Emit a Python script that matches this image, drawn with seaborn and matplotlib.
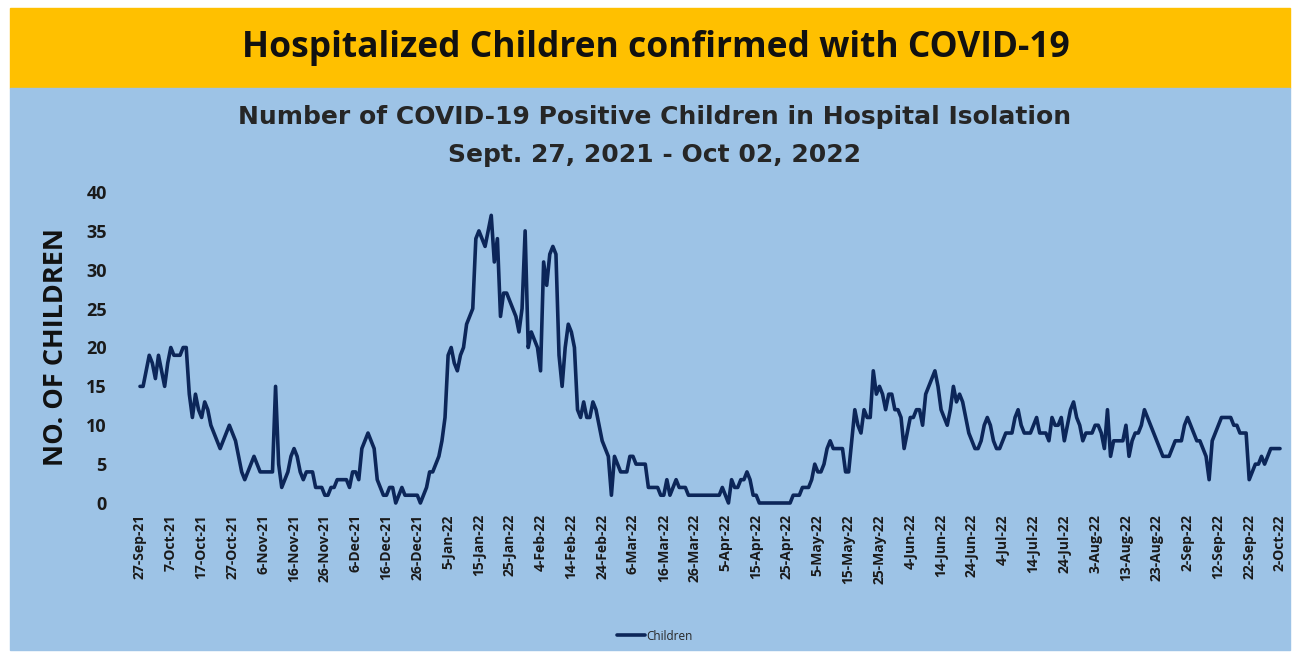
"""COVID-19 positive children in hospital isolation, Sep 2021 - Oct 2022"""

import pandas as pd
import seaborn as sns
import matplotlib.pyplot as plt
import matplotlib.dates as mdates
from matplotlib.patches import Rectangle

# daily counts, 27-Sep-21 .. 2-Oct-22
start_date = "2021-09-27"
end_date = "2022-10-02"
children = [
    15, 15, 17, 19, 18, 16, 19, 17, 15, 18,
    20, 19, 19, 19, 20, 20, 14, 11, 14, 12,
    11, 13, 12, 10, 9, 8, 7, 8, 9, 10,
    9, 8, 6, 4, 3, 4, 5, 6, 5, 4,
    4, 4, 4, 4, 15, 5, 2, 3, 4, 6,
    7, 6, 4, 3, 4, 4, 4, 2, 2, 2,
    1, 1, 2, 2, 3, 3, 3, 3, 2, 4,
    4, 3, 7, 8, 9, 8, 7, 3, 2, 1,
    1, 2, 2, 0, 1, 2, 1, 1, 1, 1,
    1, 0, 1, 2, 4, 4, 5, 6, 8, 11,
    19, 20, 18, 17, 19, 20, 23, 24, 25, 34,
    35, 34, 33, 35, 37, 31, 34, 24, 27, 27,
    26, 25, 24, 22, 25, 35, 20, 22, 21, 20,
    17, 31, 28, 32, 33, 32, 19, 15, 20, 23,
    22, 20, 12, 11, 13, 11, 11, 13, 12, 10,
    8, 7, 6, 1, 6, 5, 4, 4, 4, 6,
    6, 5, 5, 5, 5, 2, 2, 2, 2, 1,
    1, 3, 1, 2, 3, 2, 2, 2, 1, 1,
    1, 1, 1, 1, 1, 1, 1, 1, 1, 2,
    1, 0, 3, 2, 2, 3, 3, 4, 3, 1,
    1, 0, 0, 0, 0, 0, 0, 0, 0, 0,
    0, 0, 1, 1, 1, 2, 2, 2, 3, 5,
    4, 4, 5, 7, 8, 7, 7, 7, 7, 4,
    4, 8, 12, 10, 9, 12, 11, 11, 17, 14,
    15, 14, 12, 14, 14, 12, 12, 11, 7, 9,
    11, 11, 12, 12, 10, 14, 15, 16, 17, 15,
    12, 11, 10, 12, 15, 13, 14, 13, 11, 9,
    8, 7, 7, 8, 10, 11, 10, 8, 7, 7,
    8, 9, 9, 9, 11, 12, 10, 9, 9, 9,
    10, 11, 9, 9, 9, 8, 11, 10, 10, 11,
    8, 10, 12, 13, 11, 10, 8, 9, 9, 9,
    10, 10, 9, 7, 12, 6, 8, 8, 8, 8,
    10, 6, 8, 9, 9, 10, 12, 11, 10, 9,
    8, 7, 6, 6, 6, 7, 8, 8, 8, 10,
    11, 10, 9, 8, 8, 7, 6, 3, 8, 9,
    10, 11, 11, 11, 11, 10, 10, 9, 9, 9,
    3, 4, 5, 5, 6, 5, 6, 7, 7, 7, 7,
]
y_ticks = [0, 5, 10, 15, 20, 25, 30, 35, 40]

title = "Hospitalized Children confirmed with COVID-19"
subtitle_1 = "Number of COVID-19 Positive Children in Hospital Isolation"
subtitle_2 = "Sept. 27, 2021 - Oct 02, 2022"

dates = pd.date_range(start_date, end_date, freq="D")
df = pd.DataFrame({"Date": dates, "Children": children})

gold = "#FFC000"
panel = "#9DC3E6"
navy = "#0C2659"

sns.set_style("white")
plt.rcParams["font.family"] = ["Open Sans", "DejaVu Sans"]

W, H = 1293, 654
fig = plt.figure(figsize=(W / 100, H / 100), dpi=100, facecolor="white")

# banner + panel backgrounds (pixel coords converted to figure fractions)
fig.patches.append(Rectangle((10 / W, 1 - 88 / H), 1280 / W, 80 / H,
                             transform=fig.transFigure, color=gold, zorder=-10))
fig.patches.append(Rectangle((10 / W, 1 - 650 / H), 1280 / W, 562 / H,
                             transform=fig.transFigure, color=panel, zorder=-10))

fig.text(656 / W, 1 - 48 / H, title, ha="center", va="center",
         fontsize=25.5, fontweight="bold", color="#111111")
fig.text(655 / W, 1 - 117 / H, subtitle_1, ha="center", va="center",
         fontsize=18, fontweight="bold", color="#262626", family="DejaVu Sans")
fig.text(655 / W, 1 - 155 / H, subtitle_2, ha="center", va="center",
         fontsize=18, fontweight="bold", color="#262626", family="DejaVu Sans")

ax = fig.add_axes([140 / W, 1 - 503 / H, 1140 / W, 311 / H])
ax.set_facecolor("none")
ax.set_zorder(5)
sns.lineplot(data=df, x="Date", y="Children", ax=ax, color=navy,
             linewidth=2.6, label="Children", clip_on=False)

ax.set_xlim(dates[0], dates[-1])
ax.set_ylim(0, 40)
ax.set_yticks(y_ticks)
ax.set_xticks(dates[::10])
ax.xaxis.set_major_formatter(mdates.DateFormatter("%-d-%b-%y"))
ax.tick_params(axis="x", rotation=90, labelsize=10, length=0, pad=8)
ax.tick_params(axis="y", labelsize=13, length=0, pad=24)
for lbl in ax.get_xticklabels() + ax.get_yticklabels():
    lbl.set_fontweight("bold")
    lbl.set_color("#1a1a1a")

ax.set_xlabel("")
ax.set_ylabel("NO. OF CHILDREN", fontsize=19.5, fontweight="bold",
              color="#111111", labelpad=12)
sns.despine(ax=ax, left=True, bottom=True)

ax.get_legend().remove()
handles, labels = ax.get_legend_handles_labels()
fig.legend(handles, labels, loc="center", bbox_to_anchor=(655 / W, 1 - 636 / H),
           frameon=False, fontsize=8.5, handlelength=2.4, handletextpad=0.1)

fig.savefig("out.png", dpi=100, facecolor="white")
plt.close(fig)
